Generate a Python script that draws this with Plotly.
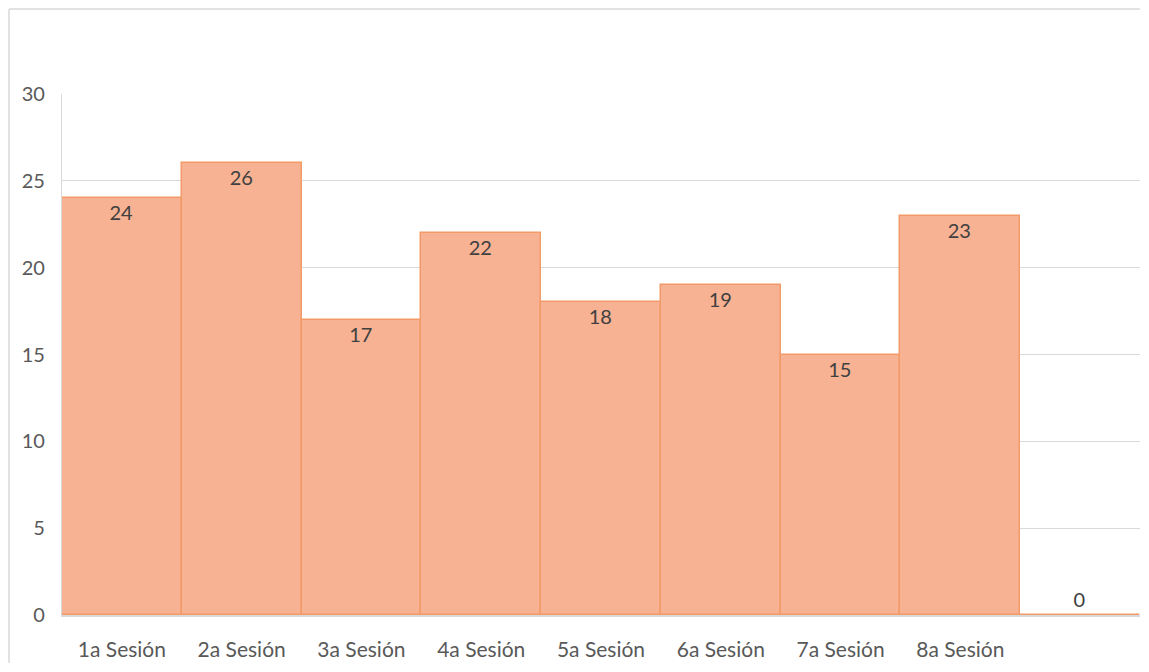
import plotly.graph_objects as go

categories = ["1a Sesión", "2a Sesión", "3a Sesión", "4a Sesión", "5a Sesión",
              "6a Sesión", "7a Sesión", "8a Sesión", ""]
values = [24, 26, 17, 22, 18, 19, 15, 23, 0]
y_ticks = [0, 5, 10, 15, 20, 25, 30]

OFF = 8  # page body margin
W, H = 1149 - 2 * OFF, 672 - 2 * OFF
ml, mt = 62 - OFF, 94 - OFF
pw, ph = 1078, 521
mr, mb = W - ml - pw, H - mt - ph

fig = go.Figure()
fig.add_trace(go.Bar(
    x=list(range(len(categories))),
    y=values,
    width=1,
    marker=dict(color="#F6B293", line=dict(color="#F29B68", width=1.5)),
    text=[str(v) for v in values],
    textposition=["inside"] * 8 + ["outside"],
    insidetextanchor="end",
    textangle=0,
    textfont=dict(family="Lato", size=20, color="#404040"),
    cliponaxis=False,
    hoverinfo="skip",
))

# outer chart border: left and top edges
bx = (1 - ml) / pw
by = (ph + mt - 1) / ph
fig.add_shape(type="line", xref="paper", yref="paper",
              x0=bx, x1=bx, y0=-(mb - 1) / ph, y1=by,
              line=dict(color="#D9D9D9", width=1.5), layer="below")
fig.add_shape(type="line", xref="paper", yref="paper",
              x0=bx, x1=(W - 1 - ml) / pw, y0=by, y1=by,
              line=dict(color="#D9D9D9", width=1.5), layer="below")

fig.update_layout(
    width=W, height=H,
    margin=dict(l=ml, r=mr, t=mt, b=mb),
    paper_bgcolor="white", plot_bgcolor="white",
    showlegend=False,
    bargap=0,
    uniformtext=dict(minsize=8, mode="show"),
    xaxis=dict(
        tickmode="array", tickvals=list(range(len(categories))), ticktext=categories,
        range=[-0.5, len(categories) - 0.5],
        showgrid=False, zeroline=False,
        showline=True, linecolor="#D9D9D9", linewidth=1.5,
        ticks="", ticklabelstandoff=15,
        tickfont=dict(family="Lato", size=21, color="#595959"),
    ),
    yaxis=dict(
        range=[0, 30], tickvals=y_ticks,
        showgrid=True, gridcolor="#D9D9D9", gridwidth=1.2,
        zeroline=False, showline=True, linecolor="#D9D9D9", linewidth=1.2,
        ticks="", ticklabelstandoff=12,
        tickfont=dict(family="Lato", size=20, color="#595959"),
    ),
)

fig.write_html("out.html", config={"displayModeBar": False})
